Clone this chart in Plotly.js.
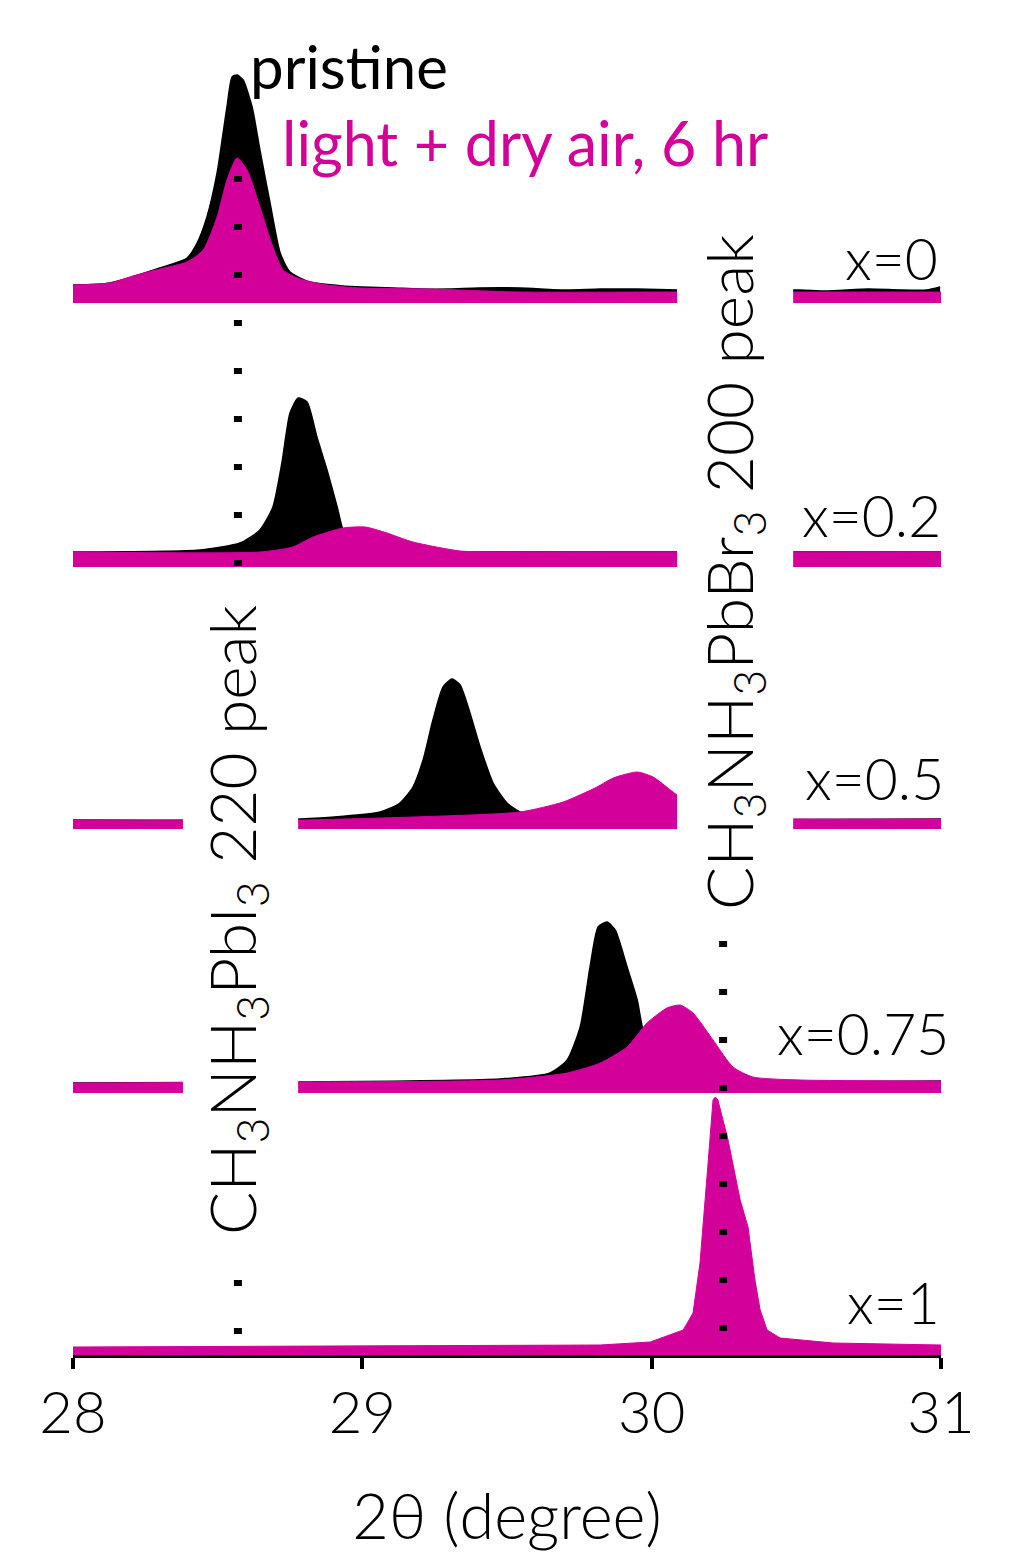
<!DOCTYPE html>
<html>
<head>
<meta charset="utf-8">
<script src="https://cdn.plot.ly/plotly-3.0.1.min.js"></script>
<style>html,body{margin:0;padding:0;background:#fff;}#chart{width:1026px;height:1554px;}</style>
</head>
<body>
<div id="chart"></div>
<script>
// ---------- data (2θ in degrees, intensity in arbitrary units) ----------
const X_TICKS = [28, 29, 30, 31];
const PANEL_LABELS = ['x=0', 'x=0.2', 'x=0.5', 'x=0.75', 'x=1'];
const SERIES_NAMES = ['pristine', 'light + dry air, 6 hr'];

// x = 0
const tth_x0_pristine = [28.00, 28.128, 28.30, 28.394, 28.429, 28.463, 28.498, 28.532, 28.550, 28.567, 28.588, 28.619, 28.646, 28.681, 28.716, 28.750, 28.819, 28.933, 29.00, 29.106, 29.20, 29.30, 29.40, 29.545, 29.70, 29.822, 29.95, 30.088, 30.513, 30.60, 30.75, 30.859, 30.95, 30.997];
const int_x0_pristine = [18, 20, 35, 45, 60, 86, 130, 196, 226, 228, 223, 196, 153, 100, 50, 31, 21, 17, 16, 15, 14, 14, 15, 15, 13, 14, 14, 13, 13, 12, 14, 13, 13, 16];
const tth_x0_light = [28.00, 28.128, 28.207, 28.30, 28.394, 28.450, 28.498, 28.532, 28.567, 28.602, 28.646, 28.691, 28.726, 28.785, 28.878, 28.992, 29.224, 29.545, 30.088, 30.513, 31.00];
const int_x0_light = [18, 20, 27, 34, 41, 53, 86, 123, 145, 133, 96, 56, 33, 24, 18, 15, 14, 11, 11, 11, 11];

// x = 0.2
const tth_x02_pristine = [28.00, 28.439, 28.577, 28.646, 28.691, 28.722, 28.750, 28.778, 28.809, 28.843, 28.878, 28.913, 28.930, 28.957, 28.992, 29.130, 31.00];
const int_x02_pristine = [15, 17, 24, 37, 60, 104, 154, 169, 165, 130, 97, 60, 40, 22, 17, 15, 15];
const tth_x02_light = [28.00, 28.646, 28.760, 28.830, 28.933, 29.010, 29.075, 29.175, 29.338, 29.476, 31.00];
const int_x02_light = [15, 15, 20, 30, 39, 40, 35, 25, 16, 15, 15];

// x = 0.5
const tth_x05_pristine = [28.00, 28.784, 29.061, 29.130, 29.175, 29.210, 29.244, 29.279, 29.310, 29.338, 29.372, 29.407, 29.452, 29.500, 29.545, 29.62, 31.00];
const int_x05_pristine = [9, 10, 17, 26, 42, 69, 109, 142, 150, 144, 116, 82, 46, 26, 17, 12, 10];
const tth_x05_light = [28.00, 28.784, 29.175, 29.545, 29.694, 29.811, 29.867, 29.950, 30.005, 30.088, 30.167, 30.306, 30.489, 31.00];
const int_x05_light = [9, 9, 12, 17, 27, 42, 51, 57, 52, 34, 21, 11, 10, 10];

// x = 0.75
const tth_x075_pristine = [28.00, 28.784, 29.476, 29.649, 29.708, 29.753, 29.787, 29.815, 29.846, 29.874, 29.915, 29.950, 29.970, 30.012, 30.064, 30.167, 31.00];
const int_x075_pristine = [10, 11, 14, 20, 33, 66, 126, 166, 171, 163, 126, 93, 63, 33, 18, 13, 12];
const tth_x075_light = [28.00, 28.784, 29.476, 29.708, 29.822, 29.915, 29.984, 30.053, 30.098, 30.143, 30.212, 30.281, 30.350, 30.513, 31.00];
const int_x075_light = [10, 11, 13, 20, 30, 46, 70, 85, 88, 80, 53, 26, 16, 13, 12];

// x = 1
const tth_x1_light = [28.00, 29.13, 29.822, 29.995, 30.109, 30.143, 30.167, 30.195, 30.212, 30.220, 30.229, 30.264, 30.306, 30.333, 30.357, 30.375, 30.399, 30.444, 30.627, 31.00];
const int_x1_light = [8, 9, 10, 13, 25, 42, 92, 192, 255, 258, 255, 215, 155, 128, 75, 45, 25, 17, 12, 10];

// reference peak positions (degrees)
const PEAK_MAPI_220 = 28.570;
const PEAK_MAPBBR_200 = 30.247;

// ---------- styling / layout ----------
const BLACK = '#000000';
const MAGENTA = '#D4009A';
const FONT = 'Lato, "Open Sans", sans-serif';

const panels = [
  {pristine: [tth_x0_pristine, int_x0_pristine], light: [tth_x0_light, int_x0_light], shape: 'spline'},
  {pristine: [tth_x02_pristine, int_x02_pristine], light: [tth_x02_light, int_x02_light], shape: 'spline'},
  {pristine: [tth_x05_pristine, int_x05_pristine], light: [tth_x05_light, int_x05_light], shape: 'spline'},
  {pristine: [tth_x075_pristine, int_x075_pristine], light: [tth_x075_light, int_x075_light], shape: 'spline'},
  {pristine: null, light: [tth_x1_light, int_x1_light], shape: 'linear'}
];

const PLOT_H = 1356;           // plot-area height in px (t = 0)
const PLOT_L = 73, PLOT_W = 868;
const PANEL_BASE_PX = [303, 567, 829, 1093, 1355]; // baseline pixel rows
const PANEL_SPAN = 300;        // y-range of each panel (units == px)

function pfy(px) { return (PLOT_H - px) / PLOT_H; }
function pfx(px) { return (px - PLOT_L) / PLOT_W; }

const traces = [];
const layout = {
  width: 1026, height: 1554,
  margin: {l: PLOT_L, r: 1026 - PLOT_L - PLOT_W, t: 0, b: 1554 - PLOT_H, pad: 0},
  paper_bgcolor: '#fff', plot_bgcolor: 'rgba(0,0,0,0)',
  showlegend: false,
  font: {family: FONT, color: '#000'},
  xaxis: {
    range: [28, 31], fixedrange: true,
    anchor: 'free', position: 0,
    tickvals: X_TICKS, ticktext: X_TICKS.map(String),
    ticks: 'outside', ticklen: 11, tickwidth: 4, tickcolor: '#000',
    ticklabelstandoff: -6,
    showline: true, linewidth: 4, linecolor: '#000',
    showgrid: false, zeroline: false,
    tickfont: {family: FONT, size: 58, color: '#000', weight: 300},
    title: {text: '2θ (degree)', font: {family: FONT, size: 63, color: '#000', weight: 300}, standoff: 50}
  },
  shapes: [],
  annotations: []
};

panels.forEach((p, i) => {
  const yname = i === 0 ? 'y' : 'y' + (i + 1);
  const axname = i === 0 ? 'yaxis' : 'yaxis' + (i + 1);
  const b = pfy(PANEL_BASE_PX[i]);
  const tp = Math.min(1, b + PANEL_SPAN / PLOT_H);
  layout[axname] = {domain: [Math.max(0, b), tp], range: [0, PANEL_SPAN], visible: false, fixedrange: true,
    showgrid: false, zeroline: false};
  if (p.pristine) {
    traces.push({x: p.pristine[0], y: p.pristine[1], yaxis: yname, type: 'scatter', mode: 'lines',
      name: SERIES_NAMES[0], line: {color: BLACK, width: 1.5, shape: p.shape, smoothing: 0.6},
      fill: 'tozeroy', fillcolor: BLACK, hoverinfo: 'skip', cliponaxis: false});
  }
  traces.push({x: p.light[0], y: p.light[1], yaxis: yname, type: 'scatter', mode: 'lines',
    name: SERIES_NAMES[1], line: {color: MAGENTA, width: 1, shape: p.shape, smoothing: 0.6},
    fill: 'tozeroy', fillcolor: MAGENTA, hoverinfo: 'skip', cliponaxis: false});
});

// dotted reference lines
layout.shapes.push({type: 'line', layer: 'above', xref: 'x', yref: 'paper',
  x0: PEAK_MAPI_220, x1: PEAK_MAPI_220, y0: pfy(176), y1: pfy(1336),
  line: {color: BLACK, width: 8, dash: '6px,42px'}});
layout.shapes.push({type: 'line', layer: 'above', xref: 'x', yref: 'paper',
  x0: PEAK_MAPBBR_200, x1: PEAK_MAPBBR_200, y0: pfy(941), y1: pfy(1336),
  line: {color: BLACK, width: 8, dash: '6px,42px'}});
// white label backgrounds
layout.shapes.push({type: 'rect', layer: 'above', xref: 'x', yref: 'paper',
  x0: 28.380, x1: 28.778, y0: pfy(1250), y1: pfy(598), fillcolor: '#fff', line: {width: 0}});
layout.shapes.push({type: 'rect', layer: 'above', xref: 'x', yref: 'paper',
  x0: 30.088, x1: 30.489, y0: pfy(918), y1: pfy(225), fillcolor: '#fff', line: {width: 0}});

function ann(o) { layout.annotations.push(Object.assign({showarrow: false, xref: 'paper', yref: 'paper'}, o)); }

ann({text: 'pris<span style="color:#000">t</span>ine', x: pfx(248), y: pfy(66), xanchor: 'left', yanchor: 'middle',
  font: {family: FONT, size: 60, color: BLACK}});
ann({text: SERIES_NAMES[1], x: pfx(280), y: pfy(143), xanchor: 'left', yanchor: 'middle',
  font: {family: FONT, size: 61, color: MAGENTA}});

const labelY = [258, 515, 778, 1033, 1302];
const labelX = [940, 943, 946, 951, 942];
PANEL_LABELS.forEach((t, i) => ann({text: t, x: pfx(labelX[i]), y: pfy(labelY[i]), xanchor: 'right', yanchor: 'middle',
  font: {family: FONT, size: 57, color: BLACK, weight: 300}}));

ann({text: 'CH<sub>3</sub>NH<sub>3</sub>PbI<sub>3</sub> 220 peak', x: pfx(236), y: pfy(920), textangle: -90,
  xanchor: 'center', yanchor: 'middle', font: {family: FONT, size: 64, color: BLACK, weight: 300}});
ann({text: 'CH<sub>3</sub>NH<sub>3</sub>PbBr<sub>3</sub> 200 peak', x: pfx(733), y: pfy(572), textangle: -90,
  xanchor: 'center', yanchor: 'middle', font: {family: FONT, size: 64, color: BLACK, weight: 300}});

Plotly.newPlot('chart', traces, layout, {staticPlot: true, displayModeBar: false});
</script>
</body>
</html>
